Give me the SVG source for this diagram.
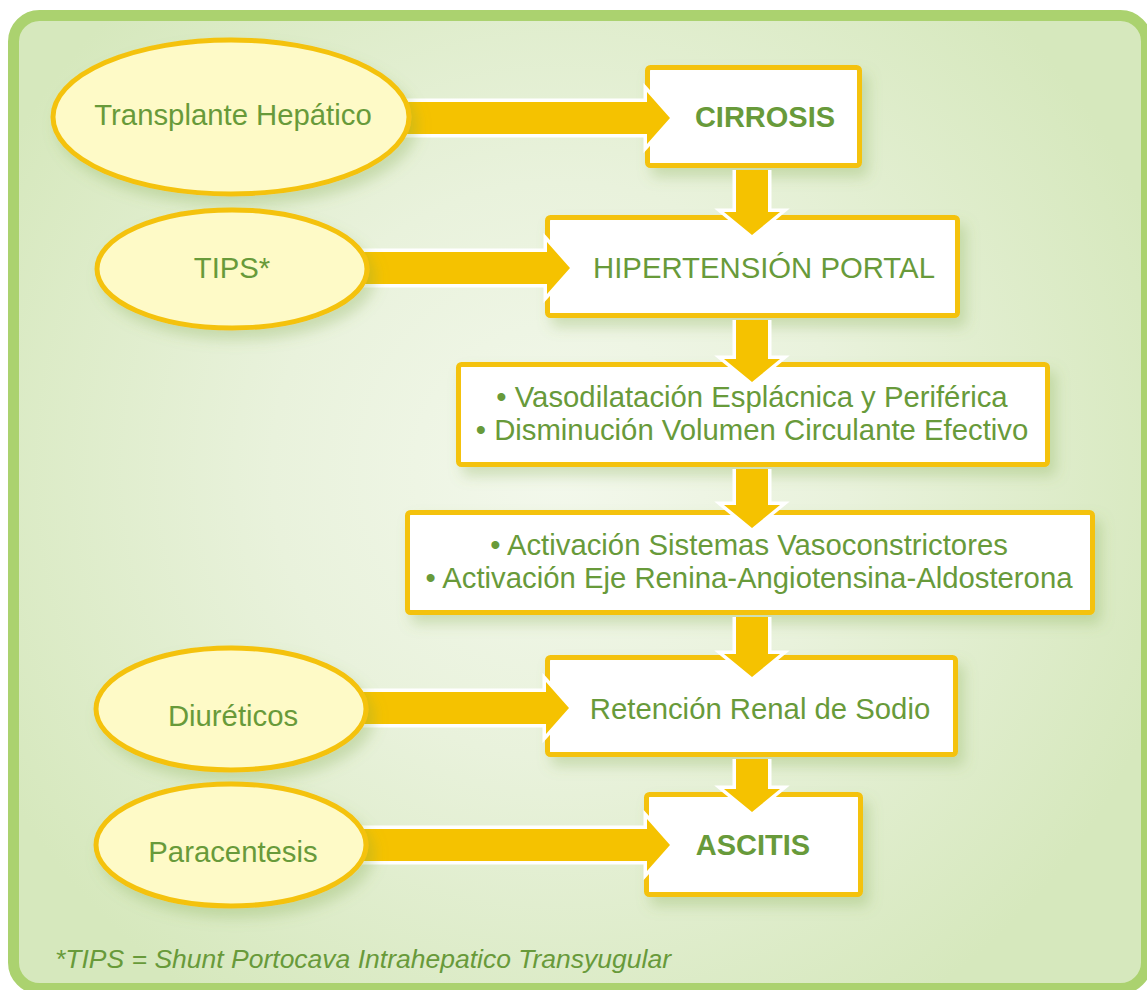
<svg xmlns="http://www.w3.org/2000/svg" xmlns:xlink="http://www.w3.org/1999/xlink" width="1147" height="990" viewBox="0 0 1147 990">
  <defs>
    <radialGradient id="panelFill" cx="560" cy="470" r="640" gradientUnits="userSpaceOnUse">
      <stop offset="0" stop-color="#f3f8ec"/>
      <stop offset="0.45" stop-color="#e9f2dc"/>
      <stop offset="1" stop-color="#d6e8bd"/>
    </radialGradient>
    <filter id="softShadow" x="-20%" y="-20%" width="150%" height="160%">
      <feDropShadow dx="6" dy="9" stdDeviation="7" flood-color="#7ea84c" flood-opacity="0.3"/>
    </filter>
    <!-- arrow outlines: horizontal (shaft ±16, head ±26, head 23 long) and vertical -->
    <path id="a1" d="M 390 102 H 647 V 92 L 670 118 L 647 144 V 134 H 390"/>
    <path id="a2" d="M 355 252 H 547 V 242 L 570 268 L 547 294 V 284 H 355"/>
    <path id="a3" d="M 355 692 H 546 V 682 L 569 708 L 546 734 V 724 H 355"/>
    <path id="a4" d="M 355 829 H 647 V 819 L 670 845 L 647 871 V 861 H 355"/>
    <path id="v1" d="M 736 170 V 212 H 724 L 752 235 L 780 212 H 768 V 170"/>
    <path id="v2" d="M 736 320 V 359 H 724 L 752 382 L 780 359 H 768 V 320"/>
    <path id="v3" d="M 736 469 V 505 H 724 L 752 528 L 780 505 H 768 V 469"/>
    <path id="v4" d="M 736 617 V 654 H 724 L 752 677 L 780 654 H 768 V 617"/>
    <path id="v5" d="M 736 759 V 789 H 724 L 752 812 L 780 789 H 768 V 759"/>
  </defs>
  <style>
    .frame { fill: url(#panelFill); stroke: #abd26f; stroke-width: 11; }
    .box { fill: #ffffff; stroke: #f4c20d; stroke-width: 5; filter: url(#softShadow); }
    .oval { fill: #fefac7; stroke: #f4c20d; stroke-width: 5; filter: url(#softShadow); }
    .halo { fill: none; stroke: #ffffff; stroke-width: 7; stroke-linejoin: miter; }
    .body { fill: #f5c200; stroke: none; }
    text { font-family: "Liberation Sans", Arial, sans-serif; fill: #689a3a; text-anchor: middle; }
    .lbl { font-size: 29.3px; }
    .big { font-size: 29px; font-weight: bold; }
    .note { font-size: 26.5px; font-style: italic; text-anchor: start; }
  </style>

  <!-- background panel -->
  <rect class="frame" x="13.5" y="15.5" width="1133" height="973" rx="26"/>

  <!-- process boxes -->
  <g id="cirrosis">
    <rect class="box" x="647.5" y="67.5" width="212" height="98" rx="3"/>
    <text class="big" x="765" y="127">CIRROSIS</text>
  </g>
  <g id="hipertension">
    <rect class="box" x="547.5" y="217.5" width="410" height="98" rx="3"/>
    <text class="lbl" x="764" y="278">HIPERTENSIÓN PORTAL</text>
  </g>
  <g id="vasodilatacion">
    <rect class="box" x="458.5" y="364.5" width="589" height="100" rx="3"/>
    <text class="lbl" x="752" y="407">• Vasodilatación Esplácnica y Periférica</text>
    <text class="lbl" x="752" y="440">• Disminución Volumen Circulante Efectivo</text>
  </g>
  <g id="activacion">
    <rect class="box" x="407.5" y="512.5" width="685" height="100" rx="3"/>
    <text class="lbl" x="749" y="555">• Activación Sistemas Vasoconstrictores</text>
    <text class="lbl" x="749" y="588">• Activación Eje Renina-Angiotensina-Aldosterona</text>
  </g>
  <g id="retencion">
    <rect class="box" x="547.5" y="657.5" width="408" height="97" rx="3"/>
    <text class="lbl" x="760" y="719">Retención Renal de Sodio</text>
  </g>
  <g id="ascitis">
    <rect class="box" x="646.5" y="794.5" width="214" height="100" rx="3"/>
    <text class="big" x="753" y="855">ASCITIS</text>
  </g>

  <!-- connectors: white-edged block arrows -->
  <g id="connectors">
    <use xlink:href="#a1" class="halo"/><use xlink:href="#a1" class="body"/>
    <use xlink:href="#a2" class="halo"/><use xlink:href="#a2" class="body"/>
    <use xlink:href="#a3" class="halo"/><use xlink:href="#a3" class="body"/>
    <use xlink:href="#a4" class="halo"/><use xlink:href="#a4" class="body"/>
    <use xlink:href="#v1" class="halo"/><use xlink:href="#v1" class="body"/>
    <use xlink:href="#v2" class="halo"/><use xlink:href="#v2" class="body"/>
    <use xlink:href="#v3" class="halo"/><use xlink:href="#v3" class="body"/>
    <use xlink:href="#v4" class="halo"/><use xlink:href="#v4" class="body"/>
    <use xlink:href="#v5" class="halo"/><use xlink:href="#v5" class="body"/>
  </g>

  <!-- treatment ovals -->
  <g id="transplante">
    <ellipse class="oval" cx="231" cy="117" rx="178" ry="77"/>
    <text class="lbl" x="233" y="125">Transplante Hepático</text>
  </g>
  <g id="tips">
    <ellipse class="oval" cx="232" cy="269" rx="135" ry="59"/>
    <text class="lbl" x="232" y="278">TIPS*</text>
  </g>
  <g id="diureticos">
    <ellipse class="oval" cx="231" cy="709" rx="135" ry="61"/>
    <text class="lbl" x="233" y="726">Diuréticos</text>
  </g>
  <g id="paracentesis">
    <ellipse class="oval" cx="231" cy="845" rx="135" ry="61"/>
    <text class="lbl" x="233" y="862">Paracentesis</text>
  </g>

  <!-- footnote -->
  <text class="note" x="55" y="968">*TIPS = Shunt Portocava Intrahepatico Transyugular</text>
</svg>
